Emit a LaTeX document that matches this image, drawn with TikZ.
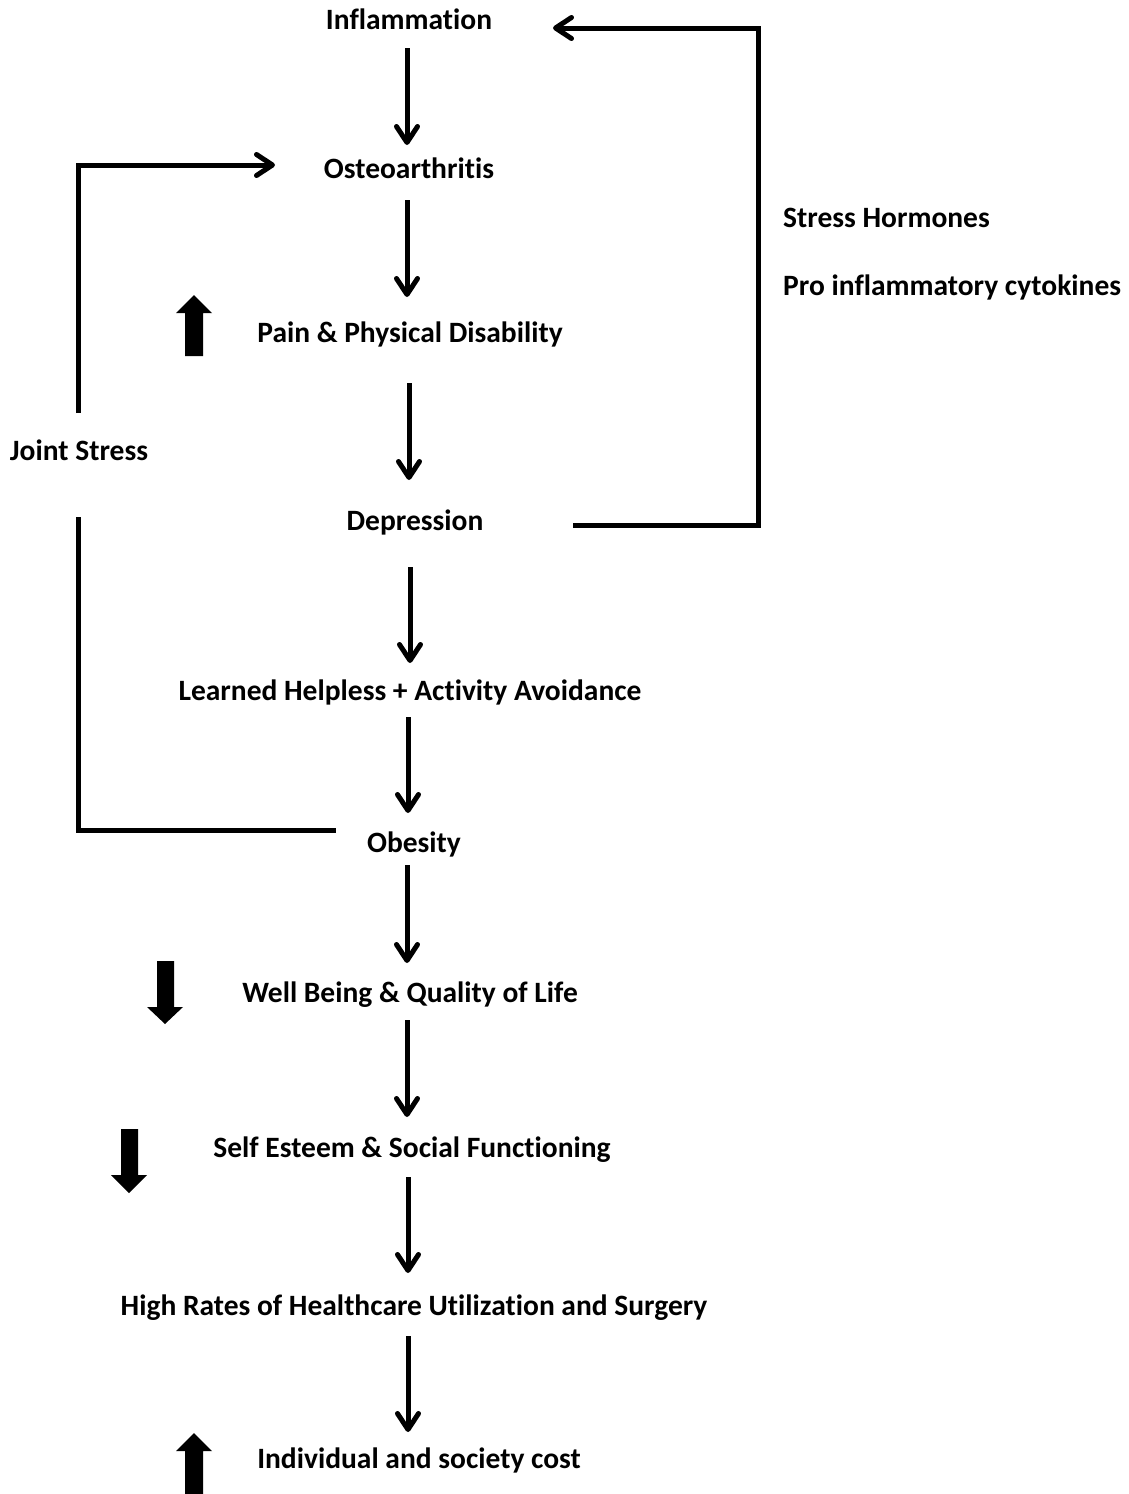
\documentclass[tikz,border=0pt]{standalone}
\usepackage{fontspec}
\setmainfont{Carlito}[Ligatures=NoCommon]
\usetikzlibrary{arrows.meta}
\begin{document}
\begin{tikzpicture}[x=1pt,y=-1pt,
  lbl/.style={font=\bfseries\fontsize{29.5}{33}\selectfont, inner sep=0pt, text height=19pt, text depth=0pt},
  conn/.style={line width=5pt, line join=miter},
  arr/.style={conn, -{Straight Barb[length=16pt,width=21pt,round]}},
  blk/.style={fill=black}]
\useasboundingbox (0,0) rectangle (1128,1494);
% main chain
\node[lbl] (infl)    at (409,20)   {Inflammation};
\node[lbl] (osteo)   at (409,169)  {Osteoarthritis};
\node[lbl] (pain)    at (410,333)  {Pain \& Physical Disability};
\node[lbl] (dep)     at (415,521)  {Depression};
\node[lbl] (learn)   at (410,691)  {Learned Helpless + Activity Avoidance};
\node[lbl] (obes)    at (414,843)  {Obesity};
\node[lbl] (well)    at (410,993)  {Well Being \& Quality of Life};
\node[lbl] (self)    at (412,1148) {Self Esteem \& Social Functioning};
\node[lbl] (high)    at (414,1306) {High Rates of Healthcare Utilization and Surgery};
\node[lbl] (indiv)   at (419,1459) {Individual and society cost};
% side labels
\node[lbl, anchor=west] (stress) at (783,218) {Stress Hormones};
\node[lbl, anchor=west] (pro)    at (783,286) {Pro inflammatory cytokines};
\node[lbl] (joint) at (79,451) {Joint Stress};
% columns for the arrows
\coordinate (c407) at (407,0);
\coordinate (c408) at (408,0);
\coordinate (c409) at (409,0);
\coordinate (c410) at (410,0);
\draw[arr, shorten <=28pt, shorten >=24pt] (infl -| c407) -- (osteo -| c407);
\draw[arr, shorten <=31pt, shorten >=36pt] (osteo -| c407) -- (pain -| c407);
\draw[arr, shorten <=50pt, shorten >=41pt] (pain -| c409) -- (dep -| c409);
\draw[arr, shorten <=46pt, shorten >=28pt] (dep -| c410) -- (learn -| c410);
\draw[arr, shorten <=26pt, shorten >=30pt] (learn -| c408) -- (obes -| c408);
\draw[arr, shorten <=22pt, shorten >=30pt] (obes -| c407) -- (well -| c407);
\draw[arr, shorten <=27pt, shorten >=31pt] (well -| c407) -- (self -| c407);
\draw[arr, shorten <=29pt, shorten >=33pt] (self -| c408) -- (high -| c408);
\draw[arr, shorten <=30pt, shorten >=27pt] (high -| c408) -- (indiv -| c408);
% feedback loop on the right
\coordinate (depout) at (573,525);
\coordinate (rbot) at (758,525);
\coordinate (rtop) at (758,28);
\coordinate (inflin) at (553,28);
\draw[arr] (depout) -- (rbot) -- (rtop) -- (inflin);
% joint stress loop on the left
\coordinate (jtop) at (78,413);
\coordinate (ltop) at (78,165);
\coordinate (osteoin) at (275,165);
\draw[arr] (jtop) -- (ltop) -- (osteoin);
\coordinate (jbot) at (78,517);
\coordinate (lbot) at (78,830);
\coordinate (obesin) at (336,830);
\draw[conn] (jbot) -- (lbot) -- (obesin);
% block arrows
\fill[blk] (185,356) -- (185,313) -- (176,313) -- (194,295) -- (212,313) -- (203,313) -- (203,356) -- cycle;
\fill[blk] (157,961) -- (157,1007) -- (147,1007) -- (165,1024) -- (183,1007) -- (174,1007) -- (174,961) -- cycle;
\fill[blk] (121,1129) -- (121,1175) -- (111,1175) -- (129,1193) -- (147,1175) -- (138,1175) -- (138,1129) -- cycle;
\fill[blk] (185,1494) -- (185,1451) -- (176,1451) -- (194,1433) -- (212,1451) -- (203,1451) -- (203,1494) -- cycle;
\end{tikzpicture}
\end{document}
